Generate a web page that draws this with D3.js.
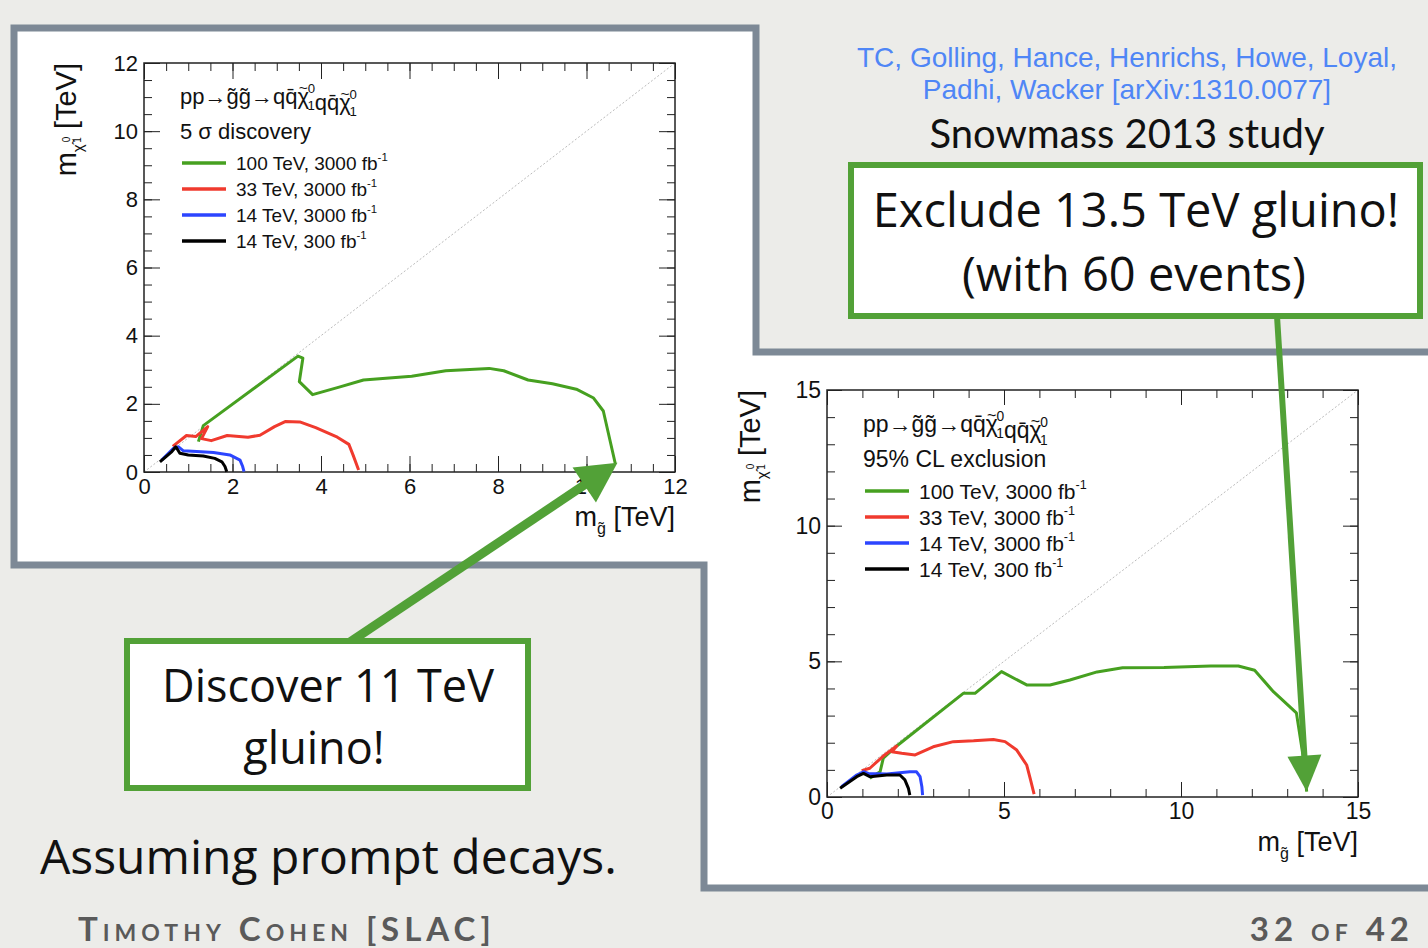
<!DOCTYPE html>
<html>
<head>
<meta charset="utf-8">
<script src="https://cdn.jsdelivr.net/npm/d3@7"></script>
<style>
    body { margin: 0; background: #ecece9; }
    svg { display: block; }
</style>
</head>
<body>
<svg id="slide" width="1428" height="948"></svg>
<script>
"use strict";

// 5 sigma discovery contours, [m_gluino, m_neutralino] in TeV
let disc100 = [[1.23, 0.89], [1.34, 1.36], [3.48, 3.40], [3.59, 3.34], [3.51, 2.65], [3.81, 2.27], [4.41, 2.49],
    [4.96, 2.70], [6.05, 2.81], [6.82, 2.97], [7.80, 3.04], [8.13, 2.97], [8.68, 2.70], [9.23, 2.59],
    [9.77, 2.43], [10.16, 2.17], [10.38, 1.79], [10.65, 0.25]];
let disc33 = [[0.65, 0.75], [0.96, 1.07], [1.17, 1.04], [1.44, 1.33], [1.30, 0.98], [1.52, 0.92], [1.88, 1.07],
    [2.35, 1.02], [2.62, 1.08], [2.95, 1.33], [3.19, 1.48], [3.52, 1.47], [3.88, 1.30], [4.37, 1.02],
    [4.63, 0.81], [4.73, 0.48], [4.85, 0.06]];
let disc14hi = [[0.40, 0.35], [0.66, 0.69], [0.78, 0.74], [0.89, 0.62], [1.19, 0.60], [1.57, 0.57], [1.94, 0.50],
    [2.17, 0.35], [2.23, 0.16], [2.26, 0.01]];
let disc14lo = [[0.36, 0.30], [0.63, 0.60], [0.72, 0.74], [0.81, 0.55], [1.00, 0.50], [1.34, 0.47], [1.60, 0.40],
    [1.76, 0.30], [1.83, 0.16], [1.87, 0.01]];

// 95% CL exclusion contours
let excl100 = [[1.21, 0.69], [1.50, 0.93], [1.59, 1.43], [1.97, 1.88], [3.85, 3.82], [4.18, 3.82], [4.93, 4.62],
    [5.64, 4.13], [6.30, 4.13], [6.86, 4.31], [7.63, 4.61], [8.35, 4.76], [9.52, 4.77], [10.84, 4.83],
    [11.62, 4.83], [12.08, 4.67], [12.61, 3.88], [13.26, 3.10], [13.45, 1.50], [13.55, 0.20]];
let excl33 = [[0.98, 0.97], [1.21, 1.06], [1.59, 1.51], [1.97, 1.88], [1.83, 1.67], [2.11, 1.61], [2.49, 1.55],
    [3.00, 1.85], [3.57, 2.04], [4.14, 2.07], [4.70, 2.12], [5.03, 2.04], [5.36, 1.73], [5.64, 1.18],
    [5.75, 0.63], [5.85, 0.11]];
let excl14hi = [[0.41, 0.38], [0.84, 0.81], [1.03, 0.93], [1.17, 0.87], [1.69, 0.85], [2.34, 0.93], [2.53, 0.93],
    [2.63, 0.75], [2.68, 0.38], [2.70, 0.07]];
let excl14lo = [[0.37, 0.32], [0.84, 0.75], [1.03, 0.87], [1.21, 0.75], [1.69, 0.81], [2.06, 0.81], [2.20, 0.63],
    [2.30, 0.32], [2.34, 0.07]];

let legendLabels = ["100 TeV, 3000 fb", "33 TeV, 3000 fb", "14 TeV, 3000 fb", "14 TeV, 300 fb"];
let seriesColors = ["#46a020", "#f03a2e", "#2c45ff", "#000000"];

let discTicks = [0, 2, 4, 6, 8, 10, 12];
let exclTicks = [0, 5, 10, 15];

let plotFont = "'Liberation Sans', Arial, Helvetica, sans-serif";
let slideFont = "Lato, 'Open Sans', sans-serif";
let boxFont = "'Open Sans', Lato, sans-serif";
let noteGreen = "#52a137";

let svg = d3.select("#slide");

// slide panels (white, slate border)
svg.append("rect").attr("width", 1428).attr("height", 948).attr("fill", "#ecece9");
svg.append("path")
    .attr("d", d3.line()([[14, 28], [756, 28], [756, 352], [1436, 352], [1436, 888], [704, 888], [704, 565], [14, 565]]) + "Z")
    .attr("fill", "#ffffff")
    .attr("stroke", "#7d8996")
    .attr("stroke-width", 7);

// neutralino symbol: chi with a small tilde on top, then stacked 0 / 1
function chiSymbol(text, size) {
    text.append("tspan").text("χ");
    text.append("tspan").attr("font-size", size * 0.7).attr("dx", -size * 0.47).attr("dy", -size * 0.5).text("~");
    text.append("tspan").attr("font-size", size * 0.6).attr("dx", 0).attr("dy", 0).text("0");
    text.append("tspan").attr("font-size", size * 0.6).attr("dx", -size * 0.34).attr("dy", size * 0.78).text("1");
    text.append("tspan").attr("dy", -size * 0.28).text("");
}

function processLabel(g, x, y, size) {
    let t = g.append("text").attr("x", x).attr("y", y).attr("font-size", size);
    t.append("tspan").text("pp→g\u0303g\u0303→qq\u0304");
    chiSymbol(t, size);
    t.append("tspan").text("qq\u0304");
    chiSymbol(t, size);
}

function drawPlot(cfg) {
    let x = d3.scaleLinear().domain([0, cfg.max]).range([cfg.left, cfg.right]);
    let y = d3.scaleLinear().domain([0, cfg.max]).range([cfg.bottom, cfg.top]);
    let g = svg.append("g").attr("font-family", plotFont).attr("fill", "#111");
    let minor = d3.range(0, cfg.max + 0.001, cfg.minorStep);

    // y = x diagonal
    g.append("line")
        .attr("x1", x(0)).attr("y1", y(0)).attr("x2", x(cfg.max)).attr("y2", y(cfg.max))
        .attr("stroke", "#bbbbbb").attr("stroke-width", 1).attr("stroke-dasharray", "2,2");

    let axes = [
        [d3.axisBottom(x), "translate(0," + cfg.bottom + ")", true],
        [d3.axisTop(x), "translate(0," + cfg.top + ")", false],
        [d3.axisLeft(y), "translate(" + cfg.left + ",0)", true],
        [d3.axisRight(y), "translate(" + cfg.right + ",0)", false]
    ];
    for (let [axis, tr, labelled] of axes) {
        g.append("g").attr("transform", tr)
            .call(axis.tickValues(minor).tickSize(-cfg.minorLen).tickFormat(""))
            .call(a => a.select(".domain").remove())
            .call(a => a.selectAll("line").attr("stroke", "#222"));
        let major = g.append("g").attr("transform", tr)
            .call(axis.tickValues(cfg.ticks).tickSize(-cfg.majorLen).tickPadding(cfg.pad)
                .tickFormat(labelled ? d3.format("d") : ""))
            .call(a => a.select(".domain").remove())
            .call(a => a.selectAll("line").attr("stroke", "#222"));
        major.selectAll("text").attr("font-family", plotFont).attr("font-size", cfg.tickFont).attr("fill", "#111");
    }

    g.append("rect")
        .attr("x", cfg.left).attr("y", cfg.top)
        .attr("width", cfg.right - cfg.left).attr("height", cfg.bottom - cfg.top)
        .attr("fill", "none").attr("stroke", "#222").attr("stroke-width", 1.5);

    let line = d3.line().x(d => x(d[0])).y(d => y(d[1]));
    g.selectAll(".contour")
        .data(cfg.series)
        .enter().append("path")
        .attr("class", "contour")
        .attr("d", line)
        .attr("fill", "none")
        .attr("stroke", (d, i) => seriesColors[i])
        .attr("stroke-width", 3)
        .attr("stroke-linejoin", "round");

    // legend
    let lg = cfg.legend;
    processLabel(g, lg.x, lg.y, lg.titleFont);
    g.append("text").attr("x", lg.x).attr("y", lg.y + lg.titleGap)
        .attr("font-size", lg.titleFont).text(cfg.title);
    let rows = g.selectAll(".legend-row")
        .data(legendLabels)
        .enter().append("g")
        .attr("class", "legend-row")
        .attr("transform", (d, i) => "translate(" + (lg.x + 2) + "," + (lg.rowY + i * lg.rowStep) + ")");
    rows.append("line").attr("x1", 0).attr("x2", 44)
        .attr("stroke", (d, i) => seriesColors[i]).attr("stroke-width", 3.5);
    let rowText = rows.append("text").attr("x", 54).attr("y", lg.rowFont * 0.36).attr("font-size", lg.rowFont);
    rowText.append("tspan").text(d => d);
    rowText.append("tspan").attr("font-size", lg.rowFont * 0.6).attr("dy", -lg.rowFont * 0.45).text("-1");

    // axis titles
    let xt = g.append("text").attr("x", cfg.right).attr("y", cfg.xTitleY)
        .attr("text-anchor", "end").attr("font-size", 27);
    xt.append("tspan").text("m");
    xt.append("tspan").attr("font-size", 16).attr("dy", 8).text("g\u0303");
    xt.append("tspan").attr("dy", -8).text(" [TeV]");

    let yt = g.append("text")
        .attr("transform", "translate(" + cfg.yTitleX + "," + cfg.top + ") rotate(-90)")
        .attr("text-anchor", "end").attr("font-size", 29);
    yt.append("tspan").text("m");
    yt.append("tspan").attr("font-size", 15).attr("dy", 7).text("χ\u0303");
    yt.append("tspan").attr("font-size", 10).attr("dx", 2).attr("dy", -13).text("0");
    yt.append("tspan").attr("font-size", 10).attr("dx", -6).attr("dy", 11).text("1");
    yt.append("tspan").attr("dy", -5).text(" [TeV]");

    return {x, y};
}

let disc = drawPlot({
    left: 144, right: 675, top: 63, bottom: 472, max: 12,
    ticks: discTicks, minorStep: 0.5, majorLen: 16, minorLen: 8, pad: 6, tickFont: 22,
    series: [disc100, disc33, disc14hi, disc14lo],
    title: "5 σ discovery",
    legend: {x: 180, y: 104, titleGap: 35, titleFont: 22, rowY: 163, rowStep: 26, rowFont: 19},
    xTitleY: 526, yTitleX: 76
});

let excl = drawPlot({
    left: 827, right: 1358, top: 390, bottom: 797, max: 15,
    ticks: exclTicks, minorStep: 1, majorLen: 15, minorLen: 8, pad: 6, tickFont: 23,
    series: [excl100, excl33, excl14hi, excl14lo],
    title: "95% CL exclusion",
    legend: {x: 863, y: 432, titleGap: 35, titleFont: 23, rowY: 491, rowStep: 26, rowFont: 21},
    xTitleY: 851, yTitleX: 760
});

// annotation arrows
function arrow(from, to, width, headLen, headHalf) {
    let dx = to[0] - from[0], dy = to[1] - from[1];
    let len = Math.hypot(dx, dy);
    let ux = dx / len, uy = dy / len;
    let bx = to[0] - ux * headLen, by = to[1] - uy * headLen;
    svg.append("line")
        .attr("x1", from[0]).attr("y1", from[1])
        .attr("x2", bx + ux * 4).attr("y2", by + uy * 4)
        .attr("stroke", noteGreen).attr("stroke-width", width);
    svg.append("path")
        .attr("d", d3.line()([to, [bx - uy * headHalf, by + ux * headHalf], [bx + uy * headHalf, by - ux * headHalf]]) + "Z")
        .attr("fill", noteGreen);
}

arrow([350, 642], [disc.x(10.7), disc.y(0.27)], 9, 40, 21);
arrow([1277, 316], [excl.x(13.55), excl.y(0.2)], 6, 36, 17);

// callout boxes
function callout(x0, y0, w, h, size, lines) {
    svg.append("rect").attr("x", x0).attr("y", y0).attr("width", w).attr("height", h)
        .attr("fill", "#ffffff").attr("stroke", noteGreen).attr("stroke-width", 6);
    svg.selectAll(null)
        .data(lines)
        .enter().append("text")
        .attr("x", d => d.x).attr("y", d => d.y)
        .attr("text-anchor", "middle")
        .attr("font-family", boxFont)
        .attr("font-size", size)
        .attr("fill", "#111")
        .text(d => d.text);
}

callout(851, 165, 569, 151, 47, [
    {text: "Exclude 13.5 TeV gluino!", x: 1136, y: 227},
    {text: "(with 60 events)", x: 1134, y: 291}
]);
callout(127, 641, 401, 147, 45, [
    {text: "Discover 11 TeV", x: 328, y: 702},
    {text: "gluino!", x: 314, y: 764}
]);

// slide text
let cite = svg.append("g").attr("font-family", plotFont).attr("font-size", 28)
    .attr("fill", "#4f86f6").attr("text-anchor", "middle");
cite.append("text").attr("x", 1127).attr("y", 67).text("TC, Golling, Hance, Henrichs, Howe, Loyal,");
cite.append("text").attr("x", 1127).attr("y", 99).text("Padhi, Wacker [arXiv:1310.0077]");

svg.append("text").attr("x", 1127).attr("y", 148)
    .attr("text-anchor", "middle").attr("font-family", slideFont).attr("font-size", 40)
    .attr("fill", "#111").text("Snowmass 2013 study");

svg.append("text").attr("x", 40).attr("y", 874)
    .attr("font-family", boxFont).attr("font-size", 48)
    .attr("fill", "#111").text("Assuming prompt decays.");

let footer = svg.append("g").attr("font-family", slideFont).attr("font-size", 33)
    .attr("font-weight", 700).attr("font-variant", "small-caps")
    .attr("letter-spacing", 5).attr("fill", "#5a5a5a");
footer.append("text").attr("x", 78).attr("y", 941).text("Timothy Cohen [SLAC]");
footer.append("text").attr("x", 1414).attr("y", 941).attr("text-anchor", "end").text("32 of 42");
</script>
</body>
</html>
